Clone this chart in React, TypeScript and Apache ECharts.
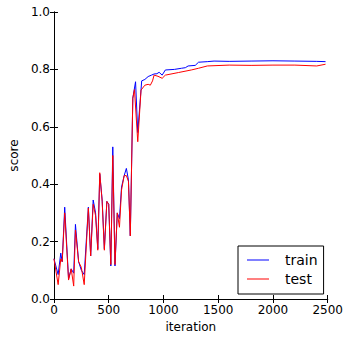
import React, { useEffect, useRef } from "react";
import * as echarts from "echarts";

const trainIter = [0, 38, 62, 75, 98, 133, 157, 180, 196, 225, 250, 276, 314, 335, 358, 380, 400, 418, 440, 460, 483, 500, 519, 537, 557, 578, 598, 617, 641, 661, 680, 697, 720, 745, 765, 801, 830, 860, 890, 914, 940, 960, 988, 1017, 1100, 1165, 1200, 1225, 1290, 1320, 1400, 1462, 1600, 1800, 2000, 2200, 2400, 2480];
const trainScore = [0.14, 0.085, 0.16, 0.13, 0.32, 0.07, 0.105, 0.09, 0.26, 0.13, 0.10, 0.085, 0.32, 0.15, 0.345, 0.30, 0.175, 0.435, 0.345, 0.175, 0.34, 0.33, 0.115, 0.53, 0.115, 0.30, 0.28, 0.39, 0.43, 0.455, 0.415, 0.22, 0.70, 0.757, 0.58, 0.76, 0.765, 0.775, 0.78, 0.784, 0.785, 0.79, 0.78, 0.798, 0.80, 0.804, 0.806, 0.812, 0.814, 0.825, 0.827, 0.829, 0.828, 0.829, 0.83, 0.829, 0.828, 0.827];

const testIter = [0, 38, 62, 75, 98, 133, 157, 180, 196, 225, 250, 276, 314, 335, 358, 380, 400, 418, 440, 460, 483, 500, 519, 537, 557, 578, 598, 617, 641, 661, 680, 697, 720, 735, 765, 795, 830, 860, 880, 900, 914, 950, 988, 1017, 1136, 1254, 1320, 1400, 1600, 1800, 2000, 2200, 2400, 2480];
const testScore = [0.14, 0.05, 0.14, 0.13, 0.30, 0.066, 0.105, 0.045, 0.24, 0.13, 0.11, 0.05, 0.317, 0.15, 0.33, 0.29, 0.17, 0.44, 0.34, 0.17, 0.34, 0.33, 0.12, 0.50, 0.12, 0.30, 0.25, 0.38, 0.43, 0.43, 0.41, 0.22, 0.70, 0.73, 0.548, 0.728, 0.745, 0.748, 0.745, 0.76, 0.78, 0.776, 0.769, 0.78, 0.789, 0.798, 0.804, 0.812, 0.815, 0.814, 0.815, 0.815, 0.812, 0.818];

const seriesNames = ["train", "test"];

export default function App() {
  const ref = useRef<HTMLDivElement>(null);
  useEffect(() => {
    if (!ref.current) return;
    const chart = echarts.init(ref.current, undefined, { renderer: "svg" });
    const font = "DejaVu Sans";
    const axisLine = { show: true, lineStyle: { color: "#000", width: 1 } };
    const tick = { show: true, inside: true, length: 4, lineStyle: { color: "#000" } };
    chart.setOption({
      animation: false,
      textStyle: { fontFamily: font },
      grid: { left: 49, top: 12, right: 16, bottom: 42 },
      legend: {
        data: seriesNames,
        orient: "vertical",
        left: 238,
        top: 246,
        padding: [7, 6, 8, 9],
        itemWidth: 22,
        itemHeight: 14,
        itemGap: 5,
        borderColor: "#000",
        borderWidth: 1,
        borderRadius: 0,
        backgroundColor: "#fff",
        textStyle: { fontFamily: font, fontSize: 14, color: "#000", padding: [0, 0, 0, 11] },
        icon: "path://M0,0 L22,0 L22,1 L0,1 Z",
      },
      xAxis: [
        {
          type: "value",
          min: 0,
          max: 2500,
          interval: 500,
          name: "iteration",
          nameLocation: "middle",
          nameGap: 21,
          nameTextStyle: { fontFamily: font, fontSize: 12, color: "#000" },
          axisLine,
          axisTick: tick,
          splitLine: { show: false },
          axisLabel: { fontFamily: font, fontSize: 12, color: "#000", margin: 5, formatter: (v: number) => String(v) },
        },
        {
          type: "value",
          position: "top",
          min: 0,
          max: 2500,
          interval: 500,
          axisLine,
          axisTick: tick,
          splitLine: { show: false },
          axisLabel: { show: false },
        },
      ],
      yAxis: [
        {
          type: "value",
          min: 0,
          max: 1,
          interval: 0.2,
          name: "score",
          nameLocation: "middle",
          nameGap: 32,
          nameTextStyle: { fontFamily: font, fontSize: 12, color: "#000" },
          axisLine,
          axisTick: tick,
          splitLine: { show: false },
          axisLabel: { fontFamily: font, fontSize: 12, color: "#000", margin: 4, formatter: (v: number) => v.toFixed(1) },
        },
        {
          type: "value",
          position: "right",
          min: 0,
          max: 1,
          interval: 0.2,
          axisLine,
          axisTick: tick,
          splitLine: { show: false },
          axisLabel: { show: false },
        },
      ],
      series: [
        {
          name: seriesNames[0],
          type: "line",
          data: trainIter.map((x, i) => [x, trainScore[i]]),
          showSymbol: false,
          symbol: "none",
          lineStyle: { color: "#0000ff", width: 1 },
          itemStyle: { color: "#0000ff" },
        },
        {
          name: seriesNames[1],
          type: "line",
          data: testIter.map((x, i) => [x, testScore[i]]),
          showSymbol: false,
          symbol: "none",
          lineStyle: { color: "#ff0000", width: 1 },
          itemStyle: { color: "#ff0000" },
        },
      ],
    });
    return () => chart.dispose();
  }, []);
  return <div ref={ref} style={{ width: 346, height: 341, position: "absolute", left: 0, top: 0 }} />;
}
